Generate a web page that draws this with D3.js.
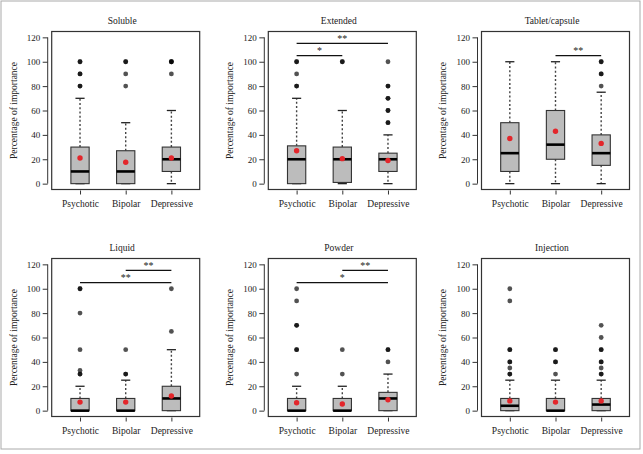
<!DOCTYPE html>
<html><head><meta charset="utf-8">
<script src="https://cdn.jsdelivr.net/npm/d3@7"></script>
<style>
html,body{margin:0;padding:0;background:#fff;}
svg{display:block;}
</style></head>
<body>
<svg id="chart" width="643" height="454" font-family="'Liberation Serif', 'Times New Roman', Times, serif"></svg>
<script>
// ---------------- data ----------------
const panelTitles = ["Soluble","Extended","Tablet/capsule","Liquid","Powder","Injection"];
const groups = ["Psychotic","Bipolar","Depressive"];
const yTicks = [0,20,40,60,80,100,120];
const yLabel = "Percentage of importance";

const whiskerLow  = [[0,0,0],[0,0,0],[0,0,0],[0,0,0],[0,0,0],[0,0,0]];
const q1          = [[0,0,10],[0,1,10],[10,20,15],[0,0,0],[0,0,0],[0,0,0]];
const medians     = [[10,10,20],[20,20,20],[25,32,25],[0,0,10],[0,0,10],[4,0,5]];
const q3          = [[30,27,30],[31,30,25],[50,60,40],[10,10,20],[10,10,15],[10,10,10]];
const whiskerHigh = [[70,50,60],[70,60,40],[100,100,75],[20,25,50],[20,20,30],[25,25,25]];
const means       = [[21,17.5,21],[27,20.5,19],[37,43,33],[7,7,12],[6.5,5.5,9],[8,7,8]];
// repeated values = several respondents at the same value (drawn darker)
const outliers = [
  [[80,80,90,90,100,100],[80,90,100,100],[90,100,100,100]],
  [[80,80,90,100,100],[100,100],[50,50,60,60,70,70,80,80,100]],
  [[],[],[80,90,90,100,100]],
  [[30,30,33,50,80,100,100],[30,30,50],[65,100]],
  [[30,50,50,70,70,90,100],[30,50],[40,50,50]],
  [[30,30,35,40,40,50,50,90,100],[30,40,40,50,50],[30,30,35,40,40,50,50,60,70]]
];
// significance brackets: [fromGroup, toGroup, level, label]
const significance = [
  [],
  [[1,3,115,"**"],[1,2,105,"*"]],
  [[2,3,105,"**"]],
  [[2,3,115,"**"],[1,3,105,"**"]],
  [[2,3,115,"**"],[1,3,105,"*"]],
  []
];

// ---------------- layout ----------------
const FONT = "'Liberation Serif', 'Times New Roman', Times, serif";
const svg = d3.select("#chart");
svg.append("rect").attr("x",1).attr("y",1).attr("width",639).attr("height",448)
  .attr("fill","none").attr("stroke","#aaa").attr("stroke-width",1);

const colLeft = [51.7, 268.3, 481.5];
const rowTop = [31.5, 258.5];
const W = 148, H = 158;

panelTitles.forEach((title, p) => {
  const left = colLeft[p % 3], top = rowTop[Math.floor(p / 3)];
  const g = svg.append("g");
  const x = d3.scaleLinear().domain([0.38, 3.62]).range([left, left + W]);
  const y = d3.scaleLinear().domain([-4.8, 124.8]).range([top + H, top]);
  const bw = x(1.4) - x(1);

  // title
  g.append("text").attr("x", left + W/2 - 3.5).attr("y", top - 8)
    .attr("text-anchor","middle").attr("font-family",FONT).attr("fill","#222")
    .attr("font-size",9.5).text(title);

  // y axis
  const ya = g.append("g").attr("transform",`translate(${left-4},0)`)
    .call(d3.axisLeft(y).tickValues(yTicks).tickSize(5).tickPadding(2.5));
  ya.attr("font-family",FONT).attr("font-size",9);
  ya.select(".domain").remove();
  ya.selectAll("text").attr("fill","#222");
  ya.selectAll(".tick line").attr("stroke","#333");
  g.append("line").attr("x1",left-4).attr("x2",left-4).attr("y1",y(0)).attr("y2",y(120))
    .attr("stroke","#333");

  // x axis
  const xa = g.append("g").attr("transform",`translate(0,${top+H+1})`)
    .call(d3.axisBottom(x).tickValues([1,2,3]).tickFormat(i => groups[i-1]).tickSize(4).tickPadding(6));
  xa.attr("font-family",FONT).attr("font-size",9.5);
  xa.select(".domain").remove();
  xa.selectAll("text").attr("fill","#222");
  xa.selectAll(".tick line").attr("stroke","#333");

  // y label
  g.append("text").attr("transform",`translate(${left-38.5},${top+H/2}) rotate(-90)`)
    .attr("text-anchor","middle").attr("dy","0.35em").attr("font-family",FONT).attr("fill","#222")
    .attr("font-size",9.5).text(yLabel);

  // boxes
  groups.forEach((grp, i) => {
    const cx = x(i + 1);
    g.append("line").attr("x1",cx).attr("x2",cx).attr("y1",y(q3[p][i])).attr("y2",y(whiskerHigh[p][i]))
      .attr("stroke","#444").attr("stroke-width",1.4).attr("stroke-dasharray","2,2.2");
    g.append("line").attr("x1",cx).attr("x2",cx).attr("y1",y(q1[p][i])).attr("y2",y(whiskerLow[p][i]))
      .attr("stroke","#444").attr("stroke-width",1.4).attr("stroke-dasharray","2,2.2");
    [whiskerHigh[p][i], whiskerLow[p][i]].forEach(v => {
      g.append("line").attr("x1",cx-bw/4).attr("x2",cx+bw/4).attr("y1",y(v)).attr("y2",y(v))
        .attr("stroke","#222").attr("stroke-width",1.3);
    });
    g.append("rect").attr("x",cx-bw/2).attr("y",y(q3[p][i])).attr("width",bw)
      .attr("height",y(q1[p][i]) - y(q3[p][i]))
      .attr("fill","#bcbcbc").attr("stroke","#333").attr("stroke-width",1.1);
    g.append("line").attr("x1",cx-bw/2).attr("x2",cx+bw/2).attr("y1",y(medians[p][i])).attr("y2",y(medians[p][i]))
      .attr("stroke","#000").attr("stroke-width",2.6);
    outliers[p][i].forEach(v => {
      g.append("circle").attr("cx",cx).attr("cy",y(v)).attr("r",2.4)
        .attr("fill","#000").attr("fill-opacity",0.68);
    });
    g.append("circle").attr("cx",cx).attr("cy",y(means[p][i])).attr("r",2.7).attr("fill","#e3262b");
  });

  // frame
  g.append("rect").attr("x",left).attr("y",top).attr("width",W).attr("height",H)
    .attr("fill","none").attr("stroke","#333").attr("stroke-width",1.2);

  // significance
  significance[p].forEach(([a,b,lvl,lab]) => {
    g.append("line").attr("x1",x(a)).attr("x2",x(b)).attr("y1",y(lvl)).attr("y2",y(lvl))
      .attr("stroke","#111").attr("stroke-width",1.3);
    g.append("text").attr("x",(x(a)+x(b))/2).attr("y",y(lvl)-1.5)
      .attr("text-anchor","middle").attr("font-family",FONT).attr("fill","#222")
      .attr("font-size",10).text(lab);
  });
});
</script>
</body></html>
